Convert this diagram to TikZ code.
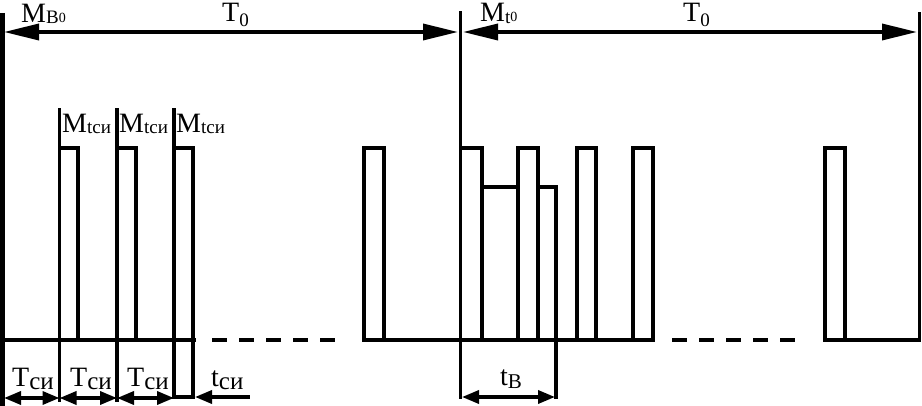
\documentclass[tikz,border=0pt]{standalone}
\usepackage{fontspec}
\setmainfont{Liberation Serif}
\usetikzlibrary{arrows.meta}
\newcommand{\bigf}{\fontsize{28}{28}\selectfont}
\newcommand{\subf}{\fontsize{19}{19}\selectfont}
\newcommand{\tinyf}{\fontsize{14}{14}\selectfont}
\newcommand{\sif}{\fontsize{25}{25}\selectfont}
\begin{document}
\begin{tikzpicture}[x=1pt,y=-1pt,
  sig/.style={line width=3.6pt, line join=miter, line cap=rect},
  dimline/.style={line width=3.6pt, {Triangle[length=35pt,width=16pt]}-{Triangle[length=35pt,width=16pt]}},
  sdim/.style={line width=3.4pt, {Triangle[length=17pt,width=13pt]}-{Triangle[length=17pt,width=13pt]}},
  lefttip/.style={line width=3.4pt, {Triangle[length=17pt,width=13pt]}-},
  dashline/.style={line width=3.6pt, dash pattern=on 15pt off 12pt},
  lbl/.style={inner sep=0pt, anchor=base west, font=\bigf},
]
\useasboundingbox (0,0) rectangle (922,406);
% named points
\coordinate (L0) at (4,32);
\coordinate (L1) at (458,32);
\coordinate (R0) at (463,32);
\coordinate (R1) at (917,32);
% main verticals
\draw[line width=4.6pt] (2.5,13) -- (2.5,406);
\draw[sig] (460.5,13) -- (460.5,397);
\draw[sig] (919.5,14) -- (919.5,340);
% top dimension lines
\draw[dimline] (L0) -- (L1);
\draw[dimline] (R0) -- (R1);
% left signal
\draw[sig] (4,340) -- (194,340);
\draw[sig] (59.5,110) -- (59.5,400);
\draw[sig] (59.5,148) -- (78,148) -- (78,340);
\draw[sig] (117,110) -- (117,400);
\draw[sig] (117,148) -- (136,148) -- (136,340);
\draw[sig] (174,110) -- (174,397) -- (193,397) -- (193,148) -- (174,148);
\draw[dashline] (212,340) -- (336,340);
\draw[sig] (364,340) -- (364,148) -- (384,148) -- (384,340);
\draw[sig] (364,340) -- (653,340);
% right signal
\draw[sig] (460.5,148) -- (482,148) -- (482,340);
\draw[sig] (482,187) -- (518,187);
\draw[sig] (518,340) -- (518,148) -- (538,148) -- (538,340);
\draw[sig] (538,187) -- (556,187) -- (556,397);
\draw[sig] (577,340) -- (577,148) -- (596,148) -- (596,340);
\draw[sig] (633,340) -- (633,148) -- (653,148) -- (653,340);
\draw[dashline] (672,340) -- (796,340);
\draw[sig] (825,340) -- (825,148) -- (845,148) -- (845,340);
\draw[sig] (825,340) -- (919.5,340);
% bottom dimensions
\coordinate (b0) at (4,398);
\coordinate (b1) at (59.5,398);
\coordinate (b2) at (117,398);
\coordinate (b3) at (174,398);
\draw[sdim] (b0) -- (b1);
\draw[sdim] (b1) -- (b2);
\draw[sdim] (b2) -- (b3);
\coordinate (tsA) at (195,397);
\coordinate (tsB) at (250,397);
\draw[lefttip] (tsA) -- (tsB);
\coordinate (tb0) at (462,397);
\coordinate (tb1) at (555,397);
\draw[sdim] (tb0) -- (tb1);
% labels
\node[lbl] (mb0) at (21,23) {M\raisebox{-1pt}{\subf В\raisebox{1pt}{\tinyf 0}}};
\node[lbl] (t0a) at (222,22) {T\raisebox{-5pt}{\subf 0}};
\node[lbl] (mt0) at (480,22) {M\raisebox{-2pt}{\subf t\raisebox{2pt}{\tinyf 0}}};
\node[lbl] (t0b) at (683,22) {T\raisebox{-5pt}{\subf 0}};
\node[lbl] (m1) at (62,133) {M\raisebox{-1pt}{\subf tси}};
\node[lbl] (m2) at (119,133) {M\raisebox{-1pt}{\subf tси}};
\node[lbl] (m3) at (176,133) {M\raisebox{-1pt}{\subf tси}};
\node[lbl] (ts1) at (12,386) {T\raisebox{-3pt}{\sif си}};
\node[lbl] (ts2) at (70,386) {T\raisebox{-3pt}{\sif си}};
\node[lbl] (ts3) at (127,386) {T\raisebox{-3pt}{\sif си}};
\node[lbl] (tsi) at (211,386) {t\raisebox{-3pt}{\sif си}};
\node[lbl] (tbl) at (500,385) {t\raisebox{-3pt}{\fontsize{21}{21}\selectfont В}};
\end{tikzpicture}
\end{document}
